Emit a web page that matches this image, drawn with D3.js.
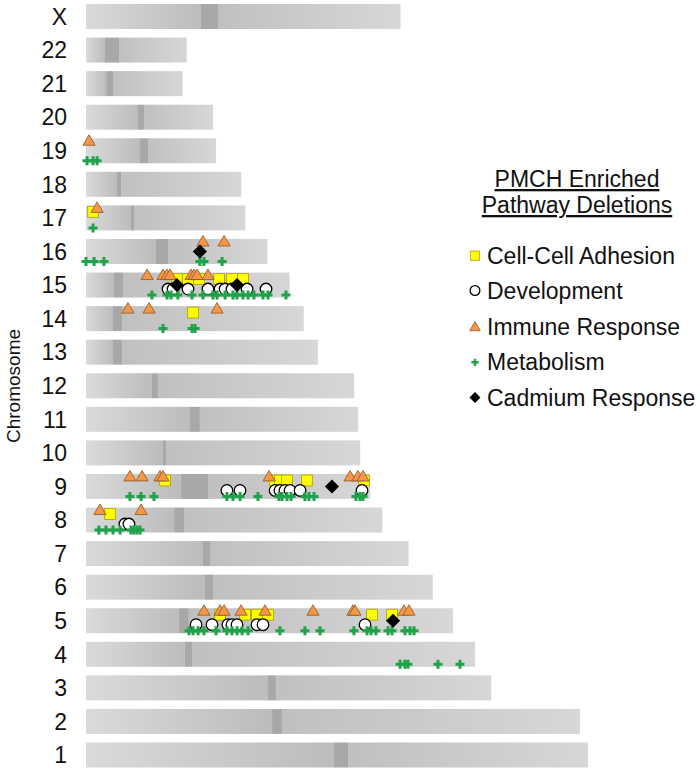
<!DOCTYPE html>
<html><head><meta charset="utf-8">
<script src="https://cdn.jsdelivr.net/npm/d3@7"></script>
<style>body{margin:0;background:#fff}svg{display:block;font-family:"Liberation Sans",Arial,sans-serif}</style>
</head><body><svg id="c" width="700" height="772"></svg>
<script>
// ---------- data ----------
const chromosomes = ["X","22","21","20","19","18","17","16","15","14","13","12","11","10","9","8","7","6","5","4","3","2","1"];
const chromLengthMb = [156,50,48,63,64.5,77,79,90,101,108,115,133,135,136,141,147,160,172,182,193,201,245,249];
const centromereStartMb = [57,9.4,10,25.8,26.8,15.4,22.3,34.7,13.9,13.4,13.4,32.7,51.6,38.2,47,43.7,58,59,46,49,90.3,92.3,123];
const centromereEndMb   = [65.5,16.4,13.4,28.8,30.8,17.4,23.8,40.7,18.4,17.9,17.9,35.7,56.5,39.7,60.5,48.6,61.5,63,51,52.6,94.2,97.2,130];

const seriesNames = ["Cell-Cell Adhesion","Development","Immune Response","Metabolism","Cadmium Response"];

// [chromosome, position Mb]
const cellAdhesion = [
 ["17",3.5],
 ["15",45.1],["15",50.6],["15",56.1],["15",66],["15",72.4],["15",77.9],
 ["14",53.1],
 ["9",39.2],["9",93.8],["9",96.2],["9",99.7],["9",109.6],["9",137.9],
 ["8",11.9],
 ["5",66.5],["5",78.9],["5",84.8],["5",90.3],["5",141.9],["5",151.8]
];
const development = [
 ["15",40.7],["15",43.2],["15",50.6],["15",60.5],["15",66.5],["15",69],["15",72.4],["15",79.9],["15",89.3],
 ["9",69.9],["9",76.4],["9",93.8],["9",96.2],["9",98.7],["9",101.2],["9",106.2],["9",136.9],
 ["8",19.3],["8",21.3],
 ["5",54.6],["5",62.5],["5",70.4],["5",72.4],["5",74.9],["5",84.8],["5",87.8],["5",138.4]
];
const immuneResponse = [
 ["19",1.5],
 ["17",5.5],
 ["16",58],["16",68.5],
 ["15",30.3],["15",38.2],["15",40.2],["15",41.7],["15",52.1],["15",53.6],["15",55.1],["15",60.5],
 ["14",20.8],["14",31.3],["14",65],
 ["9",21.8],["9",27.8],["9",36.7],["9",38.2],["9",90.8],["9",131],["9",134.9],["9",137.4],
 ["8",6.9],["8",27.3],
 ["5",58.5],["5",66.5],["5",68.5],["5",76.9],["5",88.8],["5",112.6],["5",132.4],["5",133.4],["5",157.7],["5",160.2]
];
const metabolism = [
 ["19",0.5],["19",3.5],["19",5.5],
 ["17",3.5],
 ["16",0],["16",4],["16",8.9],["16",56.5],["16",58.5],["16",67.5],
 ["15",32.7],["15",40.2],["15",42.2],["15",45.6],["15",52.6],["15",58],["15",63],["15",65],["15",69],["15",72.9],["15",74.9],["15",77.9],["15",80.4],["15",83.3],["15",87.8],["15",90.3],["15",99.2],
 ["14",38.2],["14",52.6],["14",54.1],
 ["9",21.8],["9",27.3],["9",33.7],["9",69.9],["9",72.9],["9",76.4],["9",85.3],["9",95.7],["9",97.2],["9",99.7],["9",101.7],["9",108.6],["9",110.6],["9",113.1],["9",133.9],["9",135.9],["9",137.4],
 ["8",6.4],["8",9.9],["8",13.4],["8",16.9],["8",22.3],["8",23.8],["8",25.3],["8",26.8],
 ["5",51.1],["5",53.1],["5",55.6],["5",58.5],["5",64.5],["5",69.9],["5",72.4],["5",74.9],["5",77.4],["5",80.4],["5",96.2],["5",108.6],["5",116.1],["5",132.9],["5",139.4],["5",141.4],["5",143.8],["5",149.8],["5",151.8],["5",158.2],["5",160.7],["5",162.7],
 ["4",155.8],["4",158.2],["4",159.7],["4",174.6],["4",185.5]
];
const cadmiumResponse = [
 ["16",56.5],
 ["15",45.1],["15",74.9],
 ["9",122],
 ["5",152.3]
];

// ---------- layout ----------
const svg = d3.select("#c");
const x = d3.scaleLinear().domain([0,250]).range([86,590]);
const y = d3.scalePoint().domain(chromosomes).range([16.5,755]);
const barH = 25;

const defs = svg.append("defs");
function grad(id, c1, c2){
  const g = defs.append("linearGradient").attr("id",id).attr("x1","0").attr("x2","1").attr("y1","0").attr("y2","0");
  g.append("stop").attr("offset","0").attr("stop-color",c1);
  g.append("stop").attr("offset","1").attr("stop-color",c2);
}
grad("pArm","#dadada","#bcbcbc");
grad("qArm","#c0c0c0","#d7d7d7");

const chromData = chromosomes.map((c,i)=>({c, len:chromLengthMb[i], cs:centromereStartMb[i], ce:centromereEndMb[i]}));
const rows = svg.append("g").selectAll("g").data(chromData).join("g")
  .attr("transform", d=>`translate(0,${y(d.c)-barH/2})`);
rows.append("rect").attr("x",x(0)).attr("width",d=>x(d.cs)-x(0)).attr("height",barH).attr("fill","url(#pArm)");
rows.append("rect").attr("x",d=>x(d.ce)).attr("width",d=>x(d.len)-x(d.ce)).attr("height",barH).attr("fill","url(#qArm)");
rows.append("rect").attr("x",d=>x(d.cs)).attr("width",d=>x(d.ce)-x(d.cs)).attr("height",barH).attr("fill","#a8a8a8");

// chromosome labels
svg.append("g").selectAll("text").data(chromosomes).join("text")
  .attr("x",67).attr("y",d=>y(d)).attr("dy","0.36em")
  .attr("text-anchor","end").attr("font-size",23).attr("fill","#111").text(d=>d);

svg.append("text").attr("transform","translate(20,386) rotate(-90)")
  .attr("text-anchor","middle").attr("font-size",19).attr("fill","#111").text("Chromosome");

// ---------- markers ----------
const styles = [
  {data:cellAdhesion, type:d3.symbolSquare, size:118, fill:"#ffff00", stroke:"#a89a00", sw:0.8, dy:-6, rot:0},
  {data:development, type:d3.symbolCircle, size:105, fill:"#ffffff", stroke:"#000", sw:1.3, dy:4, rot:0},
  {data:immuneResponse, type:d3.symbolTriangle, size:64, fill:"#f79646", stroke:"#8b5523", sw:0.8, dy:-9, rot:0},
  {data:metabolism, type:d3.symbolCross, size:45, fill:"#1fa34a", stroke:"none", sw:0, dy:10, rot:0},
  {data:cadmiumResponse, type:d3.symbolSquare, size:100, fill:"#000", stroke:"none", sw:0, dy:0, rot:45}
];
styles.forEach(s=>{
  const sym = d3.symbol().type(s.type).size(s.size);
  svg.append("g").selectAll("path").data(s.data).join("path")
    .attr("d",sym)
    .attr("transform",d=>`translate(${x(d[1])},${y(d[0])+s.dy}) rotate(${s.rot})`)
    .attr("fill",s.fill).attr("stroke",s.stroke).attr("stroke-width",s.sw);
});

// ---------- legend ----------
const lg = svg.append("g");
const titleLines = ["PMCH Enriched","Pathway Deletions"];
titleLines.forEach((t,i)=>{
  lg.append("text").attr("x",577).attr("y",187+i*26).attr("text-anchor","middle")
    .attr("font-size",23).attr("fill","#111").attr("text-decoration","underline").text(t);
});
const legSizes = [85,75,48,30,60];
const legY = [255.7,290.5,326.7,362.3,397.5];
seriesNames.forEach((n,i)=>{
  const s = styles[i];
  const cy = legY[i];
  lg.append("path").attr("d",d3.symbol().type(s.type).size(legSizes[i]))
    .attr("transform",`translate(475,${cy+(i===2?1:0)}) rotate(${s.rot})`)
    .attr("fill",s.fill).attr("stroke",s.stroke).attr("stroke-width",s.sw);
  lg.append("text").attr("x",487).attr("y",cy).attr("dy","0.35em").attr("font-size",23).attr("fill","#111").text(n);
});
</script></body></html>
